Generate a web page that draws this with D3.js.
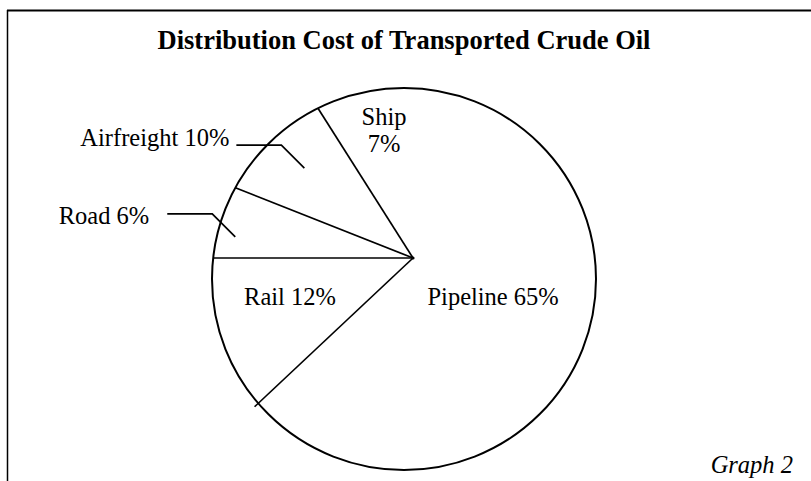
<!DOCTYPE html>
<html>
<head>
<meta charset="utf-8">
<script src="https://cdn.jsdelivr.net/npm/d3@7"></script>
<style>
  html, body { margin: 0; padding: 0; background: #fff; }
  svg { display: block; }
  text { font-family: 'Liberation Serif', 'Times New Roman', serif; fill: #000; }
</style>
</head>
<body>
<svg id="chart" width="811" height="481"></svg>
<script>
// chart data
const categories = ['Pipeline', 'Rail', 'Road', 'Airfreight', 'Ship'];
const shares = [65, 12, 6, 10, 7];
const labelLines = [['Pipeline 65%'], ['Rail 12%'], ['Road 6%'], ['Airfreight 10%'], ['Ship', '7%']];
const titleText = 'Distribution Cost of Transported Crude Oil';
const captionText = 'Graph 2';

// layout
const W = 811, H = 481;
const hub = { x: 413, y: 258 };              // point where the slice edges meet
const rim = { cx: 404, cy: 279, rx: 192, ry: 191 }; // outline of the pie
const rotation = -0.04 * Math.PI;            // start angle of the first slice
const FONT = 24.5;
// label placement, relative to each slice's middle angle (deg) and distance from the hub
const labelLayout = [
  { r: 89, da: 6 },
  { r: 129, da: 4, overshoot: 5 },
  { r: 179, da: -4, leader: true, elbow: 23, run: 45, gap: 18, dy: 10 },
  { r: 141, da: 0, leader: true, elbow: 23, run: 45, gap: 7, dy: 1 },
  { r: 131, da: 7, lineGap: 27 }
];

const svg = d3.select('#chart');

// frame (top and left rules only)
svg.append('line').attr('x1', 7).attr('y1', 10.5).attr('x2', W).attr('y2', 10.5)
  .attr('stroke', '#000').attr('stroke-width', 2);
svg.append('line').attr('x1', 7.5).attr('y1', 10).attr('x2', 7.5).attr('y2', H)
  .attr('stroke', '#000').attr('stroke-width', 1.5);

svg.append('text')
  .attr('x', 404).attr('y', 49)
  .attr('text-anchor', 'middle')
  .attr('font-size', 26.5).attr('font-weight', 'bold')
  .text(titleText);

// direction for a d3 pie angle (clockwise from 12 o'clock)
const dir = a => [Math.sin(a), -Math.cos(a)];

// where a ray from the hub leaves the outline (plus an optional overshoot)
function rimPoint(a, extra = 0) {
  const [dx, dy] = dir(a);
  const ox = (hub.x - rim.cx) / rim.rx, oy = (hub.y - rim.cy) / rim.ry;
  const ux = dx / rim.rx, uy = dy / rim.ry;
  const A = ux * ux + uy * uy, B = 2 * (ox * ux + oy * uy), C = ox * ox + oy * oy - 1;
  const t = (-B + Math.sqrt(B * B - 4 * A * C)) / (2 * A) + extra;
  return [hub.x + dx * t, hub.y + dy * t];
}

const pie = d3.pie().sort(null).value(d => d)
  .startAngle(rotation).endAngle(rotation + 2 * Math.PI);
const arcs = pie(shares);

// slices: hub -> rim -> hub
const slicePath = d => {
  const n = Math.max(2, Math.ceil((d.endAngle - d.startAngle) / 0.02));
  const pts = [[hub.x, hub.y]];
  for (let i = 0; i <= n; i++) {
    pts.push(rimPoint(d.startAngle + (d.endAngle - d.startAngle) * i / n));
  }
  return d3.line()(pts) + 'Z';
};

svg.append('g').selectAll('path')
  .data(arcs)
  .join('path')
  .attr('d', slicePath)
  .attr('fill', '#fff')
  .attr('stroke', 'none');

svg.append('ellipse')
  .attr('cx', rim.cx).attr('cy', rim.cy)
  .attr('rx', rim.rx).attr('ry', rim.ry)
  .attr('fill', 'none').attr('stroke', '#000').attr('stroke-width', 2);

// slice edges (the first slice's leading edge is not drawn)
svg.append('g').selectAll('line')
  .data(arcs.slice(1))
  .join('line')
  .attr('x1', hub.x).attr('y1', hub.y)
  .attr('x2', d => rimPoint(d.startAngle, labelLayout[d.index].overshoot || 0)[0])
  .attr('y2', d => rimPoint(d.startAngle, labelLayout[d.index].overshoot || 0)[1])
  .attr('stroke', '#000').attr('stroke-width', 1.7);

svg.append('circle')
  .attr('cx', hub.x).attr('cy', hub.y).attr('r', 1.6).attr('fill', '#000');

// labels
const labels = svg.append('g');
arcs.forEach((d, i) => {
  const L = labelLayout[i];
  const a = (d.startAngle + d.endAngle) / 2 + L.da * Math.PI / 180;
  const [ux, uy] = dir(a);
  const px = hub.x + ux * L.r, py = hub.y + uy * L.r;

  if (L.leader) {
    const ex = px - L.elbow, ey = py - L.elbow;
    const sx = ex - L.run;
    labels.append('path')
      .attr('d', d3.line()([[sx, ey], [ex, ey], [px, py]]))
      .attr('fill', 'none').attr('stroke', '#000').attr('stroke-width', 1.7);
    labels.append('text')
      .attr('x', sx - L.gap).attr('y', ey + L.dy)
      .attr('text-anchor', 'end').attr('font-size', FONT)
      .text(labelLines[i][0]);
  } else {
    const lines = labelLines[i];
    const gap = L.lineGap || 0;
    lines.forEach((s, j) => {
      labels.append('text')
        .attr('x', px)
        .attr('y', py + 8 + (j - (lines.length - 1) / 2) * gap)
        .attr('text-anchor', 'middle').attr('font-size', FONT)
        .text(s);
    });
  }
});

svg.append('text')
  .attr('x', 793).attr('y', 473)
  .attr('text-anchor', 'end')
  .attr('font-size', FONT).attr('font-style', 'italic')
  .text(captionText);
</script>
</body>
</html>
